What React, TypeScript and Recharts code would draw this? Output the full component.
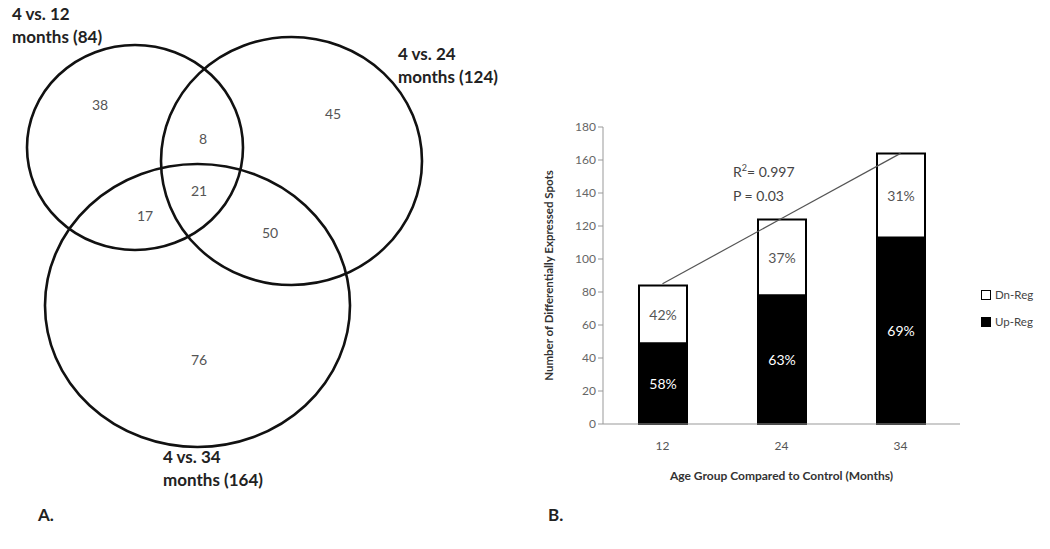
import React from 'react'
import {
  ScatterChart,
  Scatter,
  ComposedChart,
  Bar,
  Line,
  XAxis,
  YAxis,
  LabelList,
} from 'recharts'

// Panel A: Venn diagram (coordinates in panel pixels, 1 unit = 1 px)
const vennCircles = [
  { x: 135, y: 147.5, rx: 108, ry: 102.5 },
  { x: 291.5, y: 161, rx: 130.5, ry: 124 },
  { x: 197.5, y: 305.5, rx: 152.5, ry: 141.5 },
]
const regionCounts = [38, 8, 45, 21, 17, 50, 76]
const regionAnchors = [
  [100, 104], [203, 138], [333, 113], [199, 190], [145, 215], [270, 232], [199, 359],
]
const setTitles = ['4 vs. 12', '4 vs. 24', '4 vs. 34']
const setTotals = [84, 124, 164]
const setTitleAnchors = [[12, 13], [398, 53], [163, 456]]

// Panel B: stacked bars
const ageGroups = ['12', '24', '34']
const upReg = [49, 78, 113]
const dnReg = [35, 46, 51]
const trendFit = [85, 124.5, 164]
const upPct = ['58%', '63%', '69%']
const dnPct = ['42%', '37%', '31%']
const yTicks = [0, 20, 40, 60, 80, 100, 120, 140, 160, 180]
const legendItems = [
  { label: 'Dn-Reg', fill: '#fff' },
  { label: 'Up-Reg', fill: '#000' },
]

const FONT = 'Lato, "Open Sans", sans-serif'

const circleData = vennCircles.map((c, i) => ({ ...c, id: i }))
const regionData = regionCounts.map((n, i) => ({ x: regionAnchors[i][0], y: regionAnchors[i][1], n }))
const titleData = setTitles.map((t, i) => ({
  x: setTitleAnchors[i][0],
  y: setTitleAnchors[i][1],
  t,
  total: setTotals[i],
}))

const barData = ageGroups.map((g, i) => ({
  group: g,
  up: upReg[i],
  dn: dnReg[i],
  trend: trendFit[i],
  upPct: upPct[i],
  dnPct: dnPct[i],
}))

function EllipseShape(props: any) {
  const { cx, cy, payload } = props
  return <ellipse cx={cx} cy={cy} rx={payload.rx} ry={payload.ry} fill="none" stroke="#111" strokeWidth={2.6} />
}

function CountShape(props: any) {
  const { cx, cy, payload } = props
  return (
    <text x={cx} y={cy} textAnchor="middle" dominantBaseline="central" fontSize={14} fill="#555" fontFamily={FONT}>
      {payload.n}
    </text>
  )
}

function TitleShape(props: any) {
  const { cx, cy, payload } = props
  return (
    <text x={cx} y={cy} fontSize={17} fontWeight={700} fill="#222" fontFamily={FONT} dominantBaseline="central">
      <tspan x={cx} y={cy}>{payload.t}</tspan>
      <tspan x={cx} y={cy + 23}>{`months (${payload.total})`}</tspan>
    </text>
  )
}

function makePctLabel(color: string, key: 'upPct' | 'dnPct') {
  return (props: any) => {
    const { x, y, width, height, index } = props
    return (
      <text
        x={x + width / 2}
        y={y + height / 2}
        textAnchor="middle"
        dominantBaseline="central"
        fontSize={14}
        fill={color}
        fontFamily={FONT}
      >
        {barData[index][key]}
      </text>
    )
  }
}

const textStyle: React.CSSProperties = {
  position: 'absolute',
  fontFamily: FONT,
  whiteSpace: 'nowrap',
}

export default function App() {
  return (
    <div style={{ position: 'absolute', left: 0, top: 0, width: 1050, height: 549, background: '#fff', overflow: 'hidden' }}>
      <div style={{ position: 'absolute', left: 0, top: 0 }}>
        <ScatterChart width={520} height={549} margin={{ top: 0, right: 0, bottom: 0, left: 0 }}>
          <XAxis type="number" dataKey="x" domain={[0, 520]} hide height={0} allowDataOverflow />
          <YAxis type="number" dataKey="y" domain={[0, 549]} reversed hide width={0} allowDataOverflow />
          <Scatter data={circleData} shape={EllipseShape} isAnimationActive={false} />
          <Scatter data={regionData} shape={CountShape} isAnimationActive={false} />
          <Scatter data={titleData} shape={TitleShape} isAnimationActive={false} />
        </ScatterChart>
      </div>

      <div style={{ position: 'absolute', left: 540, top: 110 }}>
        <ComposedChart
          width={510}
          height={420}
          data={barData}
          margin={{ top: 17, right: 90, bottom: 76, left: 23 }}
        >
          <XAxis
            dataKey="group"
            height={30}
            tickLine={false}
            tickSize={0}
            tickMargin={17}
            axisLine={{ stroke: '#999' }}
            tick={{ fontSize: 12, fill: '#555', fontFamily: FONT }}
            label={{
              value: 'Age Group Compared to Control (Months)',
              position: 'bottom',
              offset: 17,
              style: { fontSize: 12, fontWeight: 700, fill: '#333', fontFamily: FONT },
            }}
          />
          <YAxis
            width={40}
            domain={[0, 180]}
            ticks={yTicks}
            interval={0}
            tickSize={5}
            tickLine={{ stroke: '#999' }}
            axisLine={{ stroke: '#999' }}
            tick={{ fontSize: 12, fill: '#666', fontFamily: FONT }}
            label={{
              value: 'Number of Differentially Expressed Spots',
              angle: -90,
              position: 'center',
              dx: -34,
              style: { fontSize: 11.5, fontWeight: 700, fill: '#333', fontFamily: FONT, textAnchor: 'middle' },
            }}
          />
          <Bar dataKey="up" stackId="a" fill="#000" stroke="#000" strokeWidth={2} barSize={48} isAnimationActive={false}>
            <LabelList dataKey="up" content={makePctLabel('#fff', 'upPct')} />
          </Bar>
          <Bar dataKey="dn" stackId="a" fill="#fff" stroke="#000" strokeWidth={2} barSize={48} isAnimationActive={false}>
            <LabelList dataKey="dn" content={makePctLabel('#555', 'dnPct')} />
          </Bar>
          <Line
            type="linear"
            dataKey="trend"
            stroke="#555"
            strokeWidth={1.2}
            dot={false}
            activeDot={false}
            legendType="none"
            isAnimationActive={false}
          />
        </ComposedChart>
      </div>

      <div style={{ position: 'absolute', left: 981, top: 281 }}>
        {legendItems.map((it) => (
          <div key={it.label} style={{ display: 'flex', alignItems: 'center', height: 27 }}>
            <span
              style={{
                display: 'inline-block',
                width: 8,
                height: 8,
                background: it.fill,
                border: '1.5px solid #000',
                marginRight: 4,
              }}
            />
            <span style={{ fontSize: 11.5, color: '#444', fontFamily: FONT }}>{it.label}</span>
          </div>
        ))}
      </div>

      <div style={{ ...textStyle, left: 733, top: 158, fontSize: 14, lineHeight: '20px', color: '#444' }}>
        R<sup style={{ fontSize: 9 }}>2</sup>= 0.997
      </div>
      <div style={{ ...textStyle, left: 733, top: 186, fontSize: 14, lineHeight: '20px', color: '#444' }}>
        P = 0.03
      </div>
      <div style={{ ...textStyle, left: 38, top: 504, fontSize: 17, lineHeight: '22px', fontWeight: 700, color: '#222' }}>
        A.
      </div>
      <div style={{ ...textStyle, left: 548, top: 504, fontSize: 17, lineHeight: '22px', fontWeight: 700, color: '#222' }}>
        B.
      </div>
    </div>
  )
}
